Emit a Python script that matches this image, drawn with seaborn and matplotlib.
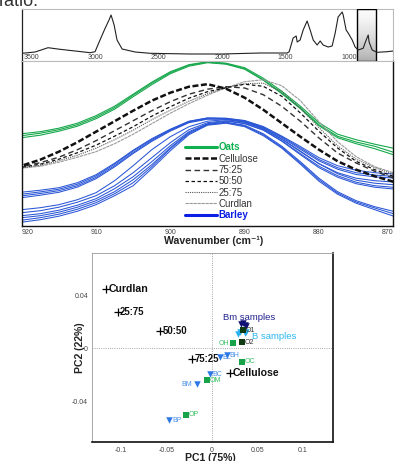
import numpy as np
import pandas as pd
import matplotlib
matplotlib.use("Agg")
import matplotlib.pyplot as plt
from matplotlib.lines import Line2D
from matplotlib.patches import Rectangle
import seaborn as sns

sns.set_style("white")
plt.rcParams["font.family"] = ["Liberation Sans", "DejaVu Sans"]

# ---------------- data: full FTIR overview spectrum ----------------
ftir_wn = [3575, 3472, 3370, 3276, 3157, 3039, 3000, 2961, 2921, 2890, 2874, 2850, 2827, 2787,
           2685, 2567, 2252, 2000, 1701, 1488, 1472, 1441, 1417, 1409, 1386, 1362, 1331, 1307,
           1283, 1252, 1228, 1205, 1165, 1134, 1110, 1087, 1055, 1047, 1024, 1008, 976, 953,
           929, 890, 866, 850, 843, 819, 780, 701, 654]
ftir_abs = [7.7, 9, 13.3, 11.7, 10, 8.3, 9.3, 21, 32.7, 41, 46, 36, 21, 12,
            9, 7.7, 7, 7, 8, 8, 9.3, 23, 25, 19, 21, 31, 40, 31,
            21, 16, 20, 16, 14, 15, 28, 44, 49, 46, 31, 28, 21, 14,
            11, 12.7, 21, 26, 19, 11, 8.7, 9.3, 10]
ftir_ticks = [3500, 3000, 2500, 2000, 1500, 1000]
zoom_window = [937, 787]

# ---------------- data: zoomed region 920-870 cm-1 ----------------
wavenumbers = [920.0, 917.5, 915.0, 912.5, 910.0, 907.5, 905.0, 902.5, 900.0, 897.5, 895.0,
               892.5, 890.0, 887.5, 885.0, 882.5, 880.0, 877.5, 875.0, 872.5, 870.0]

oats_1 = [92.0, 94.0, 97.5, 102.5, 110.0, 119.5, 131.5, 143.5, 154.0, 161.0, 164.0,
          162.5, 158.0, 147.5, 134.5, 119.5, 103.0, 91.5, 86.0, 81.5, 77.5]
oats_2 = [90.0, 92.5, 96.0, 101.0, 108.5, 118.0, 130.5, 142.5, 153.0, 160.5, 163.5,
          162.0, 157.0, 146.0, 132.7, 117.7, 101.0, 89.4, 83.7, 79.4, 73.5]
oats_3 = [88.0, 90.5, 94.5, 99.5, 107.0, 116.5, 129.0, 141.0, 152.0, 159.5, 163.0,
          161.5, 156.5, 145.5, 132.0, 117.0, 100.0, 88.0, 82.0, 77.0, 71.0]

cellulose = [60, 66, 74, 83.5, 94, 104.5, 115, 125, 133, 139, 141.5,
             137, 128, 116, 102.5, 89, 76, 64.5, 56, 49.5, 44]
mix_75_25 = [59, 63, 68.5, 76, 85, 95, 105, 115, 124, 131.5, 136.5,
             139, 137.7, 131, 119.4, 104.4, 87.7, 72.7, 62.7, 54.4, 47.7]
mix_50_50 = [58.5, 61.5, 66.5, 73, 80.5, 89.5, 99, 109.5, 119, 127.5, 134,
             138, 141.5, 139.4, 129.4, 112.7, 94.4, 77.7, 64.4, 56, 49.4]
mix_25_75 = [58, 60.5, 65, 70.5, 77.5, 86, 95.5, 106, 115.5, 124.5, 132,
             138, 142, 142.5, 134, 117.5, 98, 80, 66.5, 58, 51.5]
curdlan = [57.5, 59.5, 63.5, 68.5, 74, 82, 91.5, 102, 112.5, 122, 130.5,
           138, 144, 146, 140, 125, 104, 84, 69, 59, 53]

barley_1 = [33.5, 35.5, 38.0, 43.0, 51.0, 62.5, 75.5, 87.0, 96.5, 104.5, 107.8,
            107.5, 105.2, 99.2, 89.6, 79.2, 68.0, 60.0, 55.5, 53.0, 51.7]
barley_2 = [31.5, 33.8, 36.5, 41.5, 49.8, 61.5, 74.8, 86.3, 96.0, 104.2, 107.6,
            107.2, 104.8, 98.6, 88.8, 77.8, 66.2, 58.0, 53.0, 50.6, 49.4]
barley_3 = [29.8, 32.2, 35.0, 40.0, 48.3, 60.0, 73.3, 85.2, 95.3, 103.6, 107.0,
            106.8, 104.2, 98.0, 88.0, 76.5, 64.8, 56.5, 51.2, 48.8, 47.7]
barley_4 = [28.0, 30.5, 33.4, 38.6, 47.0, 58.8, 72.2, 84.3, 94.6, 103.0, 106.5,
            106.4, 103.6, 97.0, 86.6, 74.6, 62.0, 52.0, 45.5, 42.5, 41.0]
barley_5 = [16, 18, 21, 26, 33, 45, 60, 76, 89, 99, 104.5,
            106, 103.5, 97, 86.5, 74, 62, 53, 47.5, 45, 43.7]
barley_6 = [13, 15, 18.5, 23.5, 30, 40, 53, 68, 83, 96, 103,
            105, 102.5, 96, 85, 72, 59.5, 50, 43.5, 40, 38.4]
barley_7 = [10, 12, 15.5, 20.5, 27, 37, 49, 64, 80, 94, 102,
            104.5, 102, 95.5, 84.5, 71, 58, 48.5, 42, 38.5, 36.7]
barley_8 = [8, 10, 13.5, 18.5, 25, 34, 46, 61, 78, 93, 101.5,
            103.5, 100.5, 92, 79.5, 64, 47.5, 34, 25, 19, 14.4]
barley_9 = [5.5, 8, 11.5, 16.5, 23, 32, 43, 59, 77, 92, 101,
            103, 99.8, 91, 78.4, 62.7, 46, 32.7, 23.7, 17.7, 12]
barley_10 = [3.5, 6, 9.5, 14.5, 21, 30, 40, 57, 75, 91, 100.5,
             102.5, 99, 90, 77.5, 61.5, 44.5, 31.5, 22.5, 16, 9.6]
zoom_ticks = [920, 910, 900, 890, 880, 870]

# ---------------- data: PCA scores ----------------
mix_labels = ["Curdlan", "25:75", "50:50", "75:25", "Cellulose"]
mix_pc1 = [-0.117, -0.104, -0.057, -0.0224, 0.0198]
mix_pc2 = [0.045, 0.0278, 0.0134, -0.0081, -0.019]

barley_labels = ["BL", "BH", "BC", "BM", "BP"]
barley_pc1 = [0.0088, 0.0162, -0.0022, -0.0169, -0.047]
barley_pc2 = [-0.0068, -0.0051, -0.0195, -0.0271, -0.0547]

oat_labels = ["OH", "OC", "OM", "OP"]
oat_pc1 = [0.0235, 0.0334, -0.0058, -0.029]
oat_pc2 = [0.0038, -0.0102, -0.0241, -0.0502]

ref_labels = ["O1", "O2"]
ref_pc1 = [0.0345, 0.0327]
ref_pc2 = [0.0139, 0.0046]

bm_pc1 = [0.032, 0.034, 0.036, 0.037]
bm_pc2 = [0.0185, 0.0190, 0.0178, 0.0168]
bs_pc1 = [0.029, 0.031, 0.036, 0.038]
bs_pc2 = [0.0112, 0.0122, 0.0115, 0.0125]

pc1_ticks = [-0.1, -0.05, 0, 0.05, 0.1]
pc1_ticklabels = ["-0.1", "-0.05", "0", "0.05", "0.1"]
pc2_ticks = [-0.04, 0, 0.04]
pc2_ticklabels = ["-0.04", "0", "0.04"]

# ---------------- figure ----------------
W, H = 401, 461
fig = plt.figure(figsize=(W / 100, H / 100), dpi=100)

def px_axes(l, t, r, b):
    return fig.add_axes([l / W, 1 - b / H, (r - l) / W, (b - t) / H])

GREEN = "#17a84c"
BLUE = "#2a56d6"

# cropped caption text at top
fig.text(-0.002, 1 - 6.5 / H, "ratio.", fontsize=13, color="#333333", va="baseline", ha="left")

# ---- top overview panel ----
ax0 = px_axes(22, 9, 393, 61)
ax0.set_facecolor("white")
grad = np.linspace(0.02, 0.42, 100).reshape(-1, 1)
ax0.imshow(grad, extent=(zoom_window[0], zoom_window[1], 0, 52), aspect="auto",
           cmap="Greys", vmin=0, vmax=1, origin="upper", zorder=1)
ax0.add_patch(Rectangle((zoom_window[1], 0), zoom_window[0] - zoom_window[1], 52,
                        fill=False, ec="black", lw=1.0, zorder=3))
df0 = pd.DataFrame({"wn": ftir_wn, "a": ftir_abs})
sns.lineplot(data=df0, x="wn", y="a", ax=ax0, color="#222222", lw=0.8, estimator=None, zorder=4)
ax0.set_xlim(3575, 655)
ax0.set_ylim(0, 52)
ax0.set_xticks(ftir_ticks)
ax0.set_xticklabels([str(t) for t in ftir_ticks])
ax0.set_yticks([])
ax0.tick_params(axis="x", length=0, pad=-4.7, labelsize=5, labelcolor="#444444")
ax0.set_xlabel("")
ax0.set_ylabel("")
for s in ["top", "right", "bottom"]:
    ax0.spines[s].set_color("#bbbbbb")
    ax0.spines[s].set_linewidth(0.8)
ax0.spines["left"].set_color("#222222")
ax0.spines["left"].set_linewidth(0.9)

# ---- main zoom panel ----
ax1 = px_axes(21.7, 61, 393.3, 225.7)
curves = [
    (oats_1, dict(color=GREEN, lw=0.8)),
    (oats_2, dict(color=GREEN, lw=0.8)),
    (oats_3, dict(color=GREEN, lw=0.8)),
]
for b in [barley_1, barley_2, barley_3, barley_4, barley_5, barley_6, barley_7,
          barley_8, barley_9, barley_10]:
    curves.append((b, dict(color=BLUE, lw=0.75)))
style_cell = dict(color="#111111", lw=1.8, ls=(0, (2.4, 1.0)))
style_75 = dict(color="#333333", lw=1.0, ls=(0, (4.0, 2.5)))
style_50 = dict(color="#111111", lw=0.9, ls=(0, (2.8, 2.0)))
style_25 = dict(color="#555555", lw=0.8, ls=(0, (1.0, 1.0)))
style_cu = dict(color="#9a9a9a", lw=0.8, ls=(0, (3.0, 0.6)))
curves += [(curdlan, style_cu), (mix_25_75, style_25), (mix_50_50, style_50),
           (mix_75_25, style_75), (cellulose, style_cell)]
for vals, kw in curves:
    d = pd.DataFrame({"wn": wavenumbers, "h": vals})
    sns.lineplot(data=d, x="wn", y="h", ax=ax1, estimator=None, **kw)
ax1.set_xlim(920, 870)
ax1.set_ylim(0, 164.7)
ax1.set_yticks([])
ax1.set_xticks(zoom_ticks)
labs = ax1.set_xticklabels([str(t) for t in zoom_ticks])
labs[0].set_ha("left")
labs[-1].set_ha("right")
ax1.tick_params(axis="x", direction="in", length=2, width=0.8, color="#6d80cf",
                pad=2.2, labelsize=5, labelcolor="#444444")
ax1.set_ylabel("")
ax1.set_xlabel("")
fig.text(213.5 / W, 1 - 241 / H, "Wavenumber (cm⁻¹)", fontsize=7.6, fontweight="bold",
         ha="center", va="center", color="#222222")
for s in ["left", "bottom", "right"]:
    ax1.spines[s].set_color("#111111")
    ax1.spines[s].set_linewidth(1.0)
ax1.spines["top"].set_color("#bbbbbb")
ax1.spines["top"].set_linewidth(0.8)

handles = [
    Line2D([], [], color="#10b050", lw=2.2),
    Line2D([], [], **style_cell),
    Line2D([], [], **style_75),
    Line2D([], [], **style_50),
    Line2D([], [], **style_25),
    Line2D([], [], **style_cu),
    Line2D([], [], color="#0a1ee6", lw=2.2),
]
names = ["Oats", "Cellulose", "75:25", "50:50", "25:75", "Curdlan", "Barley"]
leg = ax1.legend(handles, names, loc="upper left",
                 bbox_to_anchor=((185 - 21.7) / 371.6, (225.7 - 142.5) / 164.7),
                 frameon=False, fontsize=7, handlelength=3.3, handletextpad=0.15,
                 labelspacing=0.13, borderpad=0, borderaxespad=0)
for t, n in zip(leg.get_texts(), names):
    if n == "Oats":
        t.set_color("#10b050"); t.set_fontweight("bold")
    elif n == "Barley":
        t.set_color("#0a1ee6"); t.set_fontweight("bold")
    else:
        t.set_color("#333333")

# ---- PCA panel ----
ax2 = px_axes(91.7, 253.3, 332.7, 442.2)
ax2.axhline(0, color="#888888", lw=0.6, ls=":", zorder=0)
ax2.axvline(0, color="#888888", lw=0.6, ls=":", zorder=0)

dmix = pd.DataFrame({"pc1": mix_pc1, "pc2": mix_pc2, "lab": mix_labels})
sns.scatterplot(data=dmix, x="pc1", y="pc2", ax=ax2, marker="+", s=30, color="black",
                linewidth=0.9, zorder=5)
for _, r in dmix.iterrows():
    fs = 7.6 if r["lab"] in ("Curdlan", "Cellulose") else 6.9
    ax2.annotate(r["lab"], (r["pc1"], r["pc2"]), xytext=(1.8, 0), textcoords="offset points",
                 fontsize=fs, fontweight="bold", va="center", ha="left", color="#111111")

dbm = pd.DataFrame({"pc1": bm_pc1, "pc2": bm_pc2})
sns.scatterplot(data=dbm, x="pc1", y="pc2", ax=ax2, marker="v", s=22, color="#101075",
                linewidth=0, zorder=4)
dbs = pd.DataFrame({"pc1": bs_pc1, "pc2": bs_pc2})
sns.scatterplot(data=dbs, x="pc1", y="pc2", ax=ax2, marker="v", s=22, color="#2ab0ee",
                linewidth=0, zorder=4)

dref = pd.DataFrame({"pc1": ref_pc1, "pc2": ref_pc2, "lab": ref_labels})
sns.scatterplot(data=dref, x="pc1", y="pc2", ax=ax2, marker="s", s=18, color="#0f3a12",
                linewidth=0, zorder=6)
for _, r in dref.iterrows():
    ax2.annotate(r["lab"], (r["pc1"], r["pc2"]), xytext=(1.8, 0), textcoords="offset points",
                 fontsize=5, va="center", ha="left", color="#333333", zorder=7)

dbar = pd.DataFrame({"pc1": barley_pc1, "pc2": barley_pc2, "lab": barley_labels})
sns.scatterplot(data=dbar, x="pc1", y="pc2", ax=ax2, marker="v", s=22, color="#2e78e6",
                linewidth=0, zorder=4)
for _, r in dbar.iterrows():
    left = r["lab"] == "BM"
    ax2.annotate(r["lab"], (r["pc1"], r["pc2"]), xytext=(-3.2 if left else 2.0, 0),
                 textcoords="offset points", fontsize=5, va="center",
                 ha="right" if left else "left", color="#4a8fe8")

doat = pd.DataFrame({"pc1": oat_pc1, "pc2": oat_pc2, "lab": oat_labels})
sns.scatterplot(data=doat, x="pc1", y="pc2", ax=ax2, marker="s", s=18, color="#16a34a",
                linewidth=0, zorder=4)
for _, r in doat.iterrows():
    left = r["lab"] == "OH"
    ax2.annotate(r["lab"], (r["pc1"], r["pc2"]), xytext=(-3.2 if left else 2.0, 0),
                 textcoords="offset points", fontsize=5, va="center",
                 ha="right" if left else "left", color="#35c060")

ax2.text(0.0121, 0.0233, "Bm samples", fontsize=6.8, color="#22228f", va="center", ha="left")
ax2.text(0.044, 0.0093, "B samples", fontsize=6.8, color="#29b6f0", va="center", ha="left")

ax2.set_xlim(-0.1325, 0.133)
ax2.set_ylim(-0.0712, 0.0722)
ax2.set_xticks(pc1_ticks)
ax2.set_xticklabels(pc1_ticklabels)
ax2.set_yticks(pc2_ticks)
ax2.set_yticklabels(pc2_ticklabels)
ax2.tick_params(axis="both", length=0, labelsize=5, labelcolor="#444444")
ax2.tick_params(axis="x", pad=3.2)
ax2.tick_params(axis="y", pad=2.6)
ax2.set_xlabel("")
ax2.set_ylabel("")
for s in ["left", "top"]:
    ax2.spines[s].set_color("#999999")
    ax2.spines[s].set_linewidth(0.6)
for s in ["bottom", "right"]:
    ax2.spines[s].set_color("#111111")
    ax2.spines[s].set_linewidth(1.2)

fig.text(210 / W, 1 - 460.5 / H, "PC1 (75%)", fontsize=7.6, fontweight="bold",
         ha="center", va="baseline", color="#222222")
fig.text(80 / W, 1 - 347.5 / H, "PC2 (22%)", fontsize=7.6, fontweight="bold",
         ha="center", va="center", rotation=90, color="#222222")

fig.savefig("out.png", dpi=100)
